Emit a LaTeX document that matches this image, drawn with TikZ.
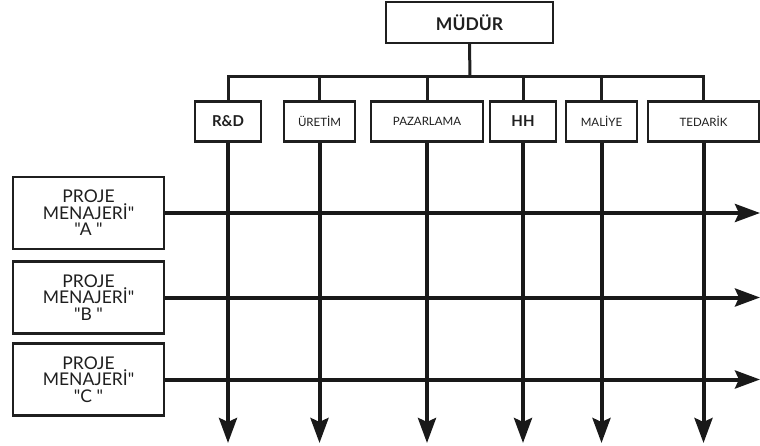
\documentclass[tikz,border=0pt]{standalone}
\usepackage{fontspec}
\newfontfamily\labelfont{Lato}
\usetikzlibrary{arrows.meta}
\begin{document}
\begin{tikzpicture}[x=1pt,y=-1pt,
  box/.style={draw=black!88,line width=2.4pt,fill=white,inner sep=0pt,align=center,text=black!88},
  head/.style={box,minimum width=167pt,minimum height=41pt,font=\labelfont\fontsize{17.5}{18}\selectfont\bfseries},
  dept/.style={box,minimum height=40pt,font=\labelfont\fontsize{11.5}{12}\selectfont},
  deptbold/.style={dept,font=\labelfont\fontsize{15}{15}\selectfont\bfseries},
  pm/.style={box,minimum width=151pt,minimum height=72pt,font=\labelfont\fontsize{17.5}{16.5}\selectfont},
  link/.style={draw=black!88,line width=3pt},
  flow/.style={draw=black!90,line width=4pt,-{Stealth[length=25pt,width=18pt,inset=4pt]}}
]
\useasboundingbox (0,0) rectangle (760,446);

% top of the organisation
\node[head] (mudur) at (469.5,22.5) {MÜDÜR};

% functional departments
\node[deptbold,minimum width=66pt]  (rd)   at (228,121.5)   {R\&D};
\node[dept,minimum width=71pt]      (ur)   at (319.5,121.5) {ÜRETİM};
\node[dept,minimum width=112pt]     (pz)   at (427,121.5)   {PAZARLAMA};
\node[deptbold,minimum width=66pt]  (hh)   at (523,121.5)   {HH};
\node[dept,minimum width=71pt]      (ml)   at (601.5,121.5) {MALİYE};
\node[dept,minimum width=111pt]     (td)   at (703.5,121.5) {TEDARİK};

% project managers
\node[pm] (pa) at (88.5,213)   {PROJE\\MENAJERİ"\\"A "};
\node[pm] (pb) at (88.5,297.5) {PROJE\\MENAJERİ"\\"B "};
\node[pm] (pc) at (88.5,379.5) {PROJE\\MENAJERİ"\\"C "};

% bus joining the manager to the departments
\coordinate (bus) at (470,77);
\draw[link] (mudur.south) -- (bus);
\draw[link] (rd.north) |- (td.north |- bus) -- (td.north);
\foreach \d in {ur,pz,hh,ml}
  \draw[link] (\d.north) -- (\d.north |- bus);

% end points of the matrix arrows
\foreach \d in {rd,ur,pz,hh,ml,td}
  \coordinate (\d-end) at (\d.south |- 0,443);
\foreach \p in {pa,pb,pc}
  \coordinate (\p-end) at (760,0 |- \p.east);

% horizontal project flows
\foreach \p in {pa,pb,pc}
  \draw[flow] (\p.east) -- (\p-end);

% vertical functional flows
\foreach \d in {rd,ur,pz,hh,ml,td}
  \draw[flow] (\d.south) -- (\d-end);
\end{tikzpicture}
\end{document}
